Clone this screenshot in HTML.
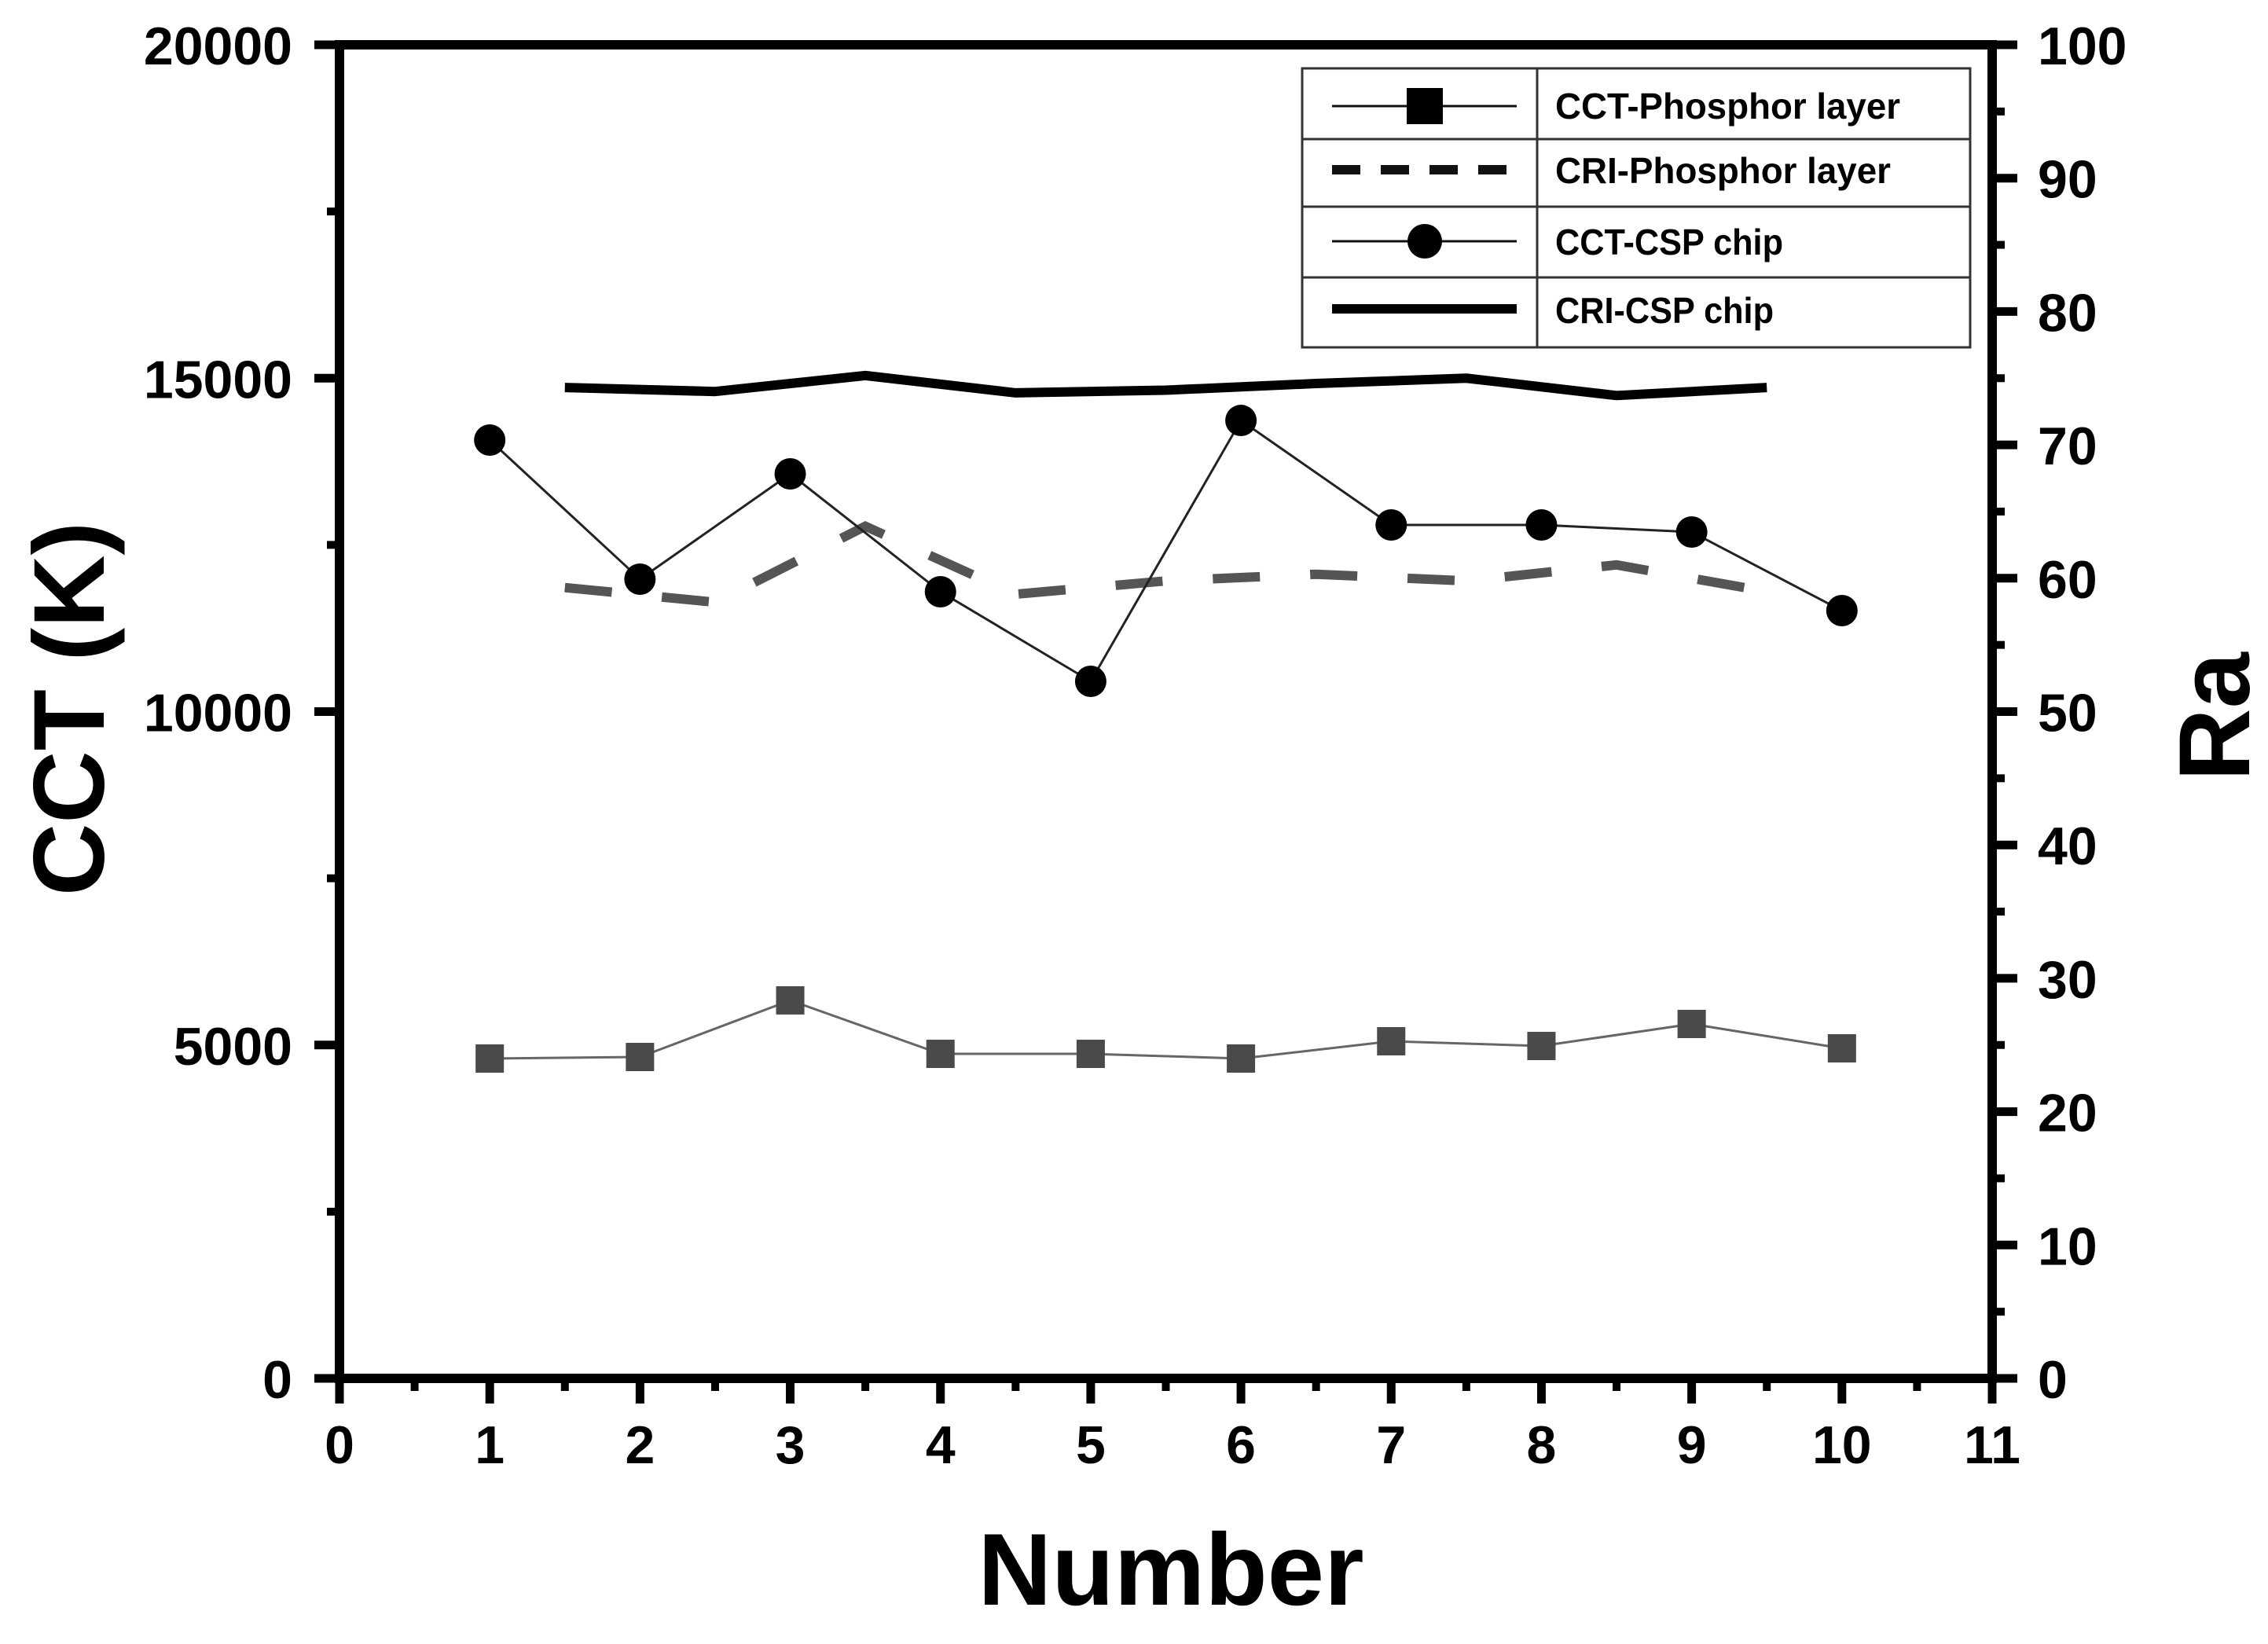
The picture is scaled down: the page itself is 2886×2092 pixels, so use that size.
<!DOCTYPE html>
<html><head><meta charset="utf-8"><style>
html,body{margin:0;padding:0;background:#fff;}
svg{display:block;font-family:"Liberation Sans",sans-serif;}
</style></head><body>
<svg id="chart" width="2886" height="2092" viewBox="0 0 2886 2092" xmlns="http://www.w3.org/2000/svg">
<g id="grid-layer"></g>
<g id="series-layer"></g>
<g id="axes-layer"></g>
<g id="legend">
  <rect x="1657" y="87" width="850" height="355" fill="#fff" stroke="#333" stroke-width="3"/>
  <line x1="1956" y1="87" x2="1956" y2="442" stroke="#333" stroke-width="3"/>
  <line x1="1657" y1="177" x2="2507" y2="177" stroke="#333" stroke-width="3"/>
  <line x1="1657" y1="263" x2="2507" y2="263" stroke="#333" stroke-width="3"/>
  <line x1="1657" y1="353" x2="2507" y2="353" stroke="#333" stroke-width="3"/>
  <g>
    <line x1="1695" y1="135" x2="1930" y2="135" stroke="#111" stroke-width="3"/>
    <rect x="1790" y="112" width="46" height="46" fill="#000"/>
    <text x="1979" y="151" font-size="46" font-weight="bold" textLength="439" lengthAdjust="spacingAndGlyphs">CCT-Phosphor layer</text>
  </g>
  <g>
    <line x1="1695" y1="216" x2="1930" y2="216" stroke="#111" stroke-width="12" stroke-dasharray="36,26"/>
    <text x="1979" y="233" font-size="46" font-weight="bold" textLength="427" lengthAdjust="spacingAndGlyphs">CRI-Phosphor layer</text>
  </g>
  <g>
    <line x1="1695" y1="307" x2="1930" y2="307" stroke="#111" stroke-width="3"/>
    <circle cx="1813" cy="307" r="22" fill="#000"/>
    <text x="1979" y="324" font-size="46" font-weight="bold" textLength="290" lengthAdjust="spacingAndGlyphs">CCT-CSP chip</text>
  </g>
  <g>
    <line x1="1695" y1="393" x2="1930" y2="393" stroke="#000" stroke-width="12"/>
    <text x="1979" y="411" font-size="46" font-weight="bold" textLength="278" lengthAdjust="spacingAndGlyphs">CRI-CSP chip</text>
  </g>
</g>
<text x="1490" y="2042" font-size="130" font-weight="bold" text-anchor="middle">Number</text>
<text transform="translate(132,902) rotate(-90)" font-size="128" font-weight="bold" text-anchor="middle">CCT (K)</text>
<text transform="translate(2862,912) rotate(-90)" font-size="128" font-weight="bold" text-anchor="middle">Ra</text>
</svg>
<script>
const categories = [1,2,3,4,5,6,7,8,9,10];
const cctPhosphor = [4797,4820,5669,4867,4867,4797,5056,4985,5315,4950];
const cctCsp = [14072,11986,13565,11797,10454,14366,12799,12799,12693,11514];
const criX = [1.5,2.5,3.5,4.5,5.5,6.5,7.5,8.5,9.5];
const criPhosphor = [59.3,58.2,63.9,58.8,59.8,60.3,59.8,61.0,59.0];
const criCsp = [74.3,74.0,75.2,73.9,74.1,74.6,75.0,73.7,74.3];
const xTicks = [0,1,2,3,4,5,6,7,8,9,10,11];
const yLeftTicks = [0,5000,10000,15000,20000];
const yRightTicks = [0,10,20,30,40,50,60,70,80,90,100];

const L=432,R=2535,T=57,B=1754;
const sx=v=>L+(v-0)/(11-0)*(R-L);
const syL=v=>B-(v/20000)*(B-T);
const syR=v=>B-(v/100)*(B-T);
const NS="http://www.w3.org/2000/svg";
function mk(tag,attrs,parent){const e=document.createElementNS(NS,tag);for(const k in attrs)e.setAttribute(k,attrs[k]);parent.appendChild(e);return e;}
const S=document.getElementById('series-layer');
const A=document.getElementById('axes-layer');

// CRI CSP chip
let el=mk('polyline',{points:criX.map((x,i)=>sx(x)+','+syR(criCsp[i])).join(' '),fill:'none',stroke:'#000','stroke-width':12,'stroke-linejoin':'round'},S);


// CRI phosphor
el=mk('polyline',{points:criX.map((x,i)=>sx(x)+','+syR(criPhosphor[i])).join(' '),fill:'none',stroke:'#555','stroke-width':12,'stroke-dasharray':'60,64'},S);


// CCT phosphor
el=mk('polyline',{points:categories.map((x,i)=>sx(x)+','+syL(cctPhosphor[i])).join(' '),fill:'none',stroke:'#666','stroke-width':3},S);


categories.forEach((x,i)=>{
  const m=mk('rect',{x:sx(x)-18,y:syL(cctPhosphor[i])-18,width:36,height:36,fill:'#4a4a4a'},S);
  
  
});
// CCT CSP
el=mk('polyline',{points:categories.map((x,i)=>sx(x)+','+syL(cctCsp[i])).join(' '),fill:'none',stroke:'#222','stroke-width':3},S);


categories.forEach((x,i)=>{
  const m=mk('circle',{cx:sx(x),cy:syL(cctCsp[i]),r:20,fill:'#000'},S);
  
  
});

// axes frame
mk('line',{x1:L-6,y1:T,x2:R+6,y2:T,stroke:'#000','stroke-width':12},A);
mk('line',{x1:L-6,y1:B,x2:R+6,y2:B,stroke:'#000','stroke-width':12},A);
mk('line',{x1:L,y1:T,x2:L,y2:B+6,stroke:'#000','stroke-width':12},A);
mk('line',{x1:R,y1:T,x2:R,y2:B+6,stroke:'#000','stroke-width':12},A);
// x ticks
xTicks.forEach(v=>{
  mk('line',{x1:sx(v),y1:B,x2:sx(v),y2:B+32,stroke:'#000','stroke-width':11},A);
  if(v<11) mk('line',{x1:sx(v+0.5),y1:B,x2:sx(v+0.5),y2:B+16,stroke:'#000','stroke-width':10},A);
  const t=mk('text',{x:sx(v),y:1862,'font-size':68,'font-weight':'bold','text-anchor':'middle'},A);
  t.textContent=v;
  
  
});
// left ticks
yLeftTicks.forEach(v=>{
  mk('line',{x1:L-32,y1:syL(v),x2:L,y2:syL(v),stroke:'#000','stroke-width':11},A);
  if(v<20000) mk('line',{x1:L-16,y1:syL(v+2500),x2:L,y2:syL(v+2500),stroke:'#000','stroke-width':10},A);
  const t=mk('text',{x:372,y:syL(v)+25,'font-size':68,'font-weight':'bold','text-anchor':'end'},A);
  t.textContent=v;
  
  
});
// right ticks
yRightTicks.forEach(v=>{
  mk('line',{x1:R,y1:syR(v),x2:R+32,y2:syR(v),stroke:'#000','stroke-width':11},A);
  if(v<100) mk('line',{x1:R,y1:syR(v+5),x2:R+16,y2:syR(v+5),stroke:'#000','stroke-width':10},A);
  const t=mk('text',{x:2593,y:syR(v)+25,'font-size':68,'font-weight':'bold','text-anchor':'start'},A);
  t.textContent=v;
  
  
});
</script>
</body></html>
